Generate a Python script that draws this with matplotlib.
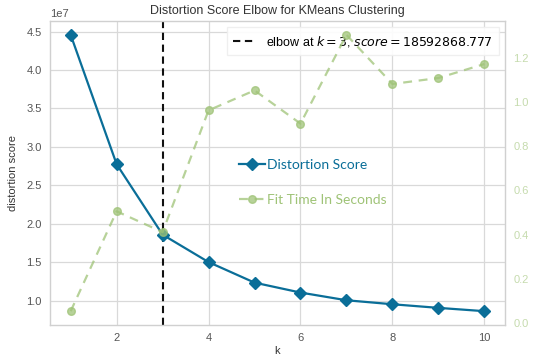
import matplotlib
matplotlib.use("Agg")
import matplotlib.pyplot as plt

# k values tried and the resulting KMeans scores
k_values = [1, 2, 3, 4, 5, 6, 7, 8, 9, 10]
distortion = [44.57e6, 27.75e6, 18592868.777, 15.03e6, 12.36e6,
              11.07e6, 10.07e6, 9.55e6, 9.08e6, 8.65e6]
fit_time = [0.055, 0.506, 0.412, 0.962, 1.052, 0.902, 1.303, 1.081, 1.108, 1.171]
elbow_k = 3
elbow_score = 18592868.777

blue = "#0a6e98"
green = "#9fc377"
tick_gray = "#555555"

plt.rcParams["font.family"] = ["Liberation Sans", "DejaVu Sans"]
plt.rcParams["mathtext.fontset"] = "dejavusans"

fig = plt.figure(figsize=(5.33, 3.58), dpi=100)
ax = fig.add_axes([0.0938, 0.0922, 0.8537, 0.8491])

dist_line, = ax.plot(k_values, distortion, color=blue, marker="D", markersize=6.5,
                     lw=1.6, label="Distortion Score", zorder=3)
elbow_line = ax.axvline(elbow_k, color="#111111", ls="--", lw=1.5, dashes=(3.5, 2.2),
                        label="elbow at $k=%d$, $score=%.3f$" % (elbow_k, elbow_score))
elbow_leg = ax.legend([elbow_line], [elbow_line.get_label()], loc="upper right",
                      fontsize=9, frameon=True, handlelength=1.8, borderpad=0.5,
                      fancybox=False)
elbow_leg.get_frame().set_edgecolor("#eeeeee")
elbow_leg.get_frame().set_facecolor("white")
elbow_leg.get_frame().set_alpha(0.9)

ax.set_title("Distortion Score Elbow for KMeans Clustering", fontsize=9, color="#333333", pad=5)
ax.set_xlabel("k", fontsize=8, color="#333333", labelpad=2)
ax.set_ylabel("distortion score", fontsize=8, color="#333333", labelpad=6)
ax.set_xticks([2, 4, 6, 8, 10])
ax.set_yticks([10e6, 15e6, 20e6, 25e6, 30e6, 35e6, 40e6, 45e6])
ax.tick_params(colors=tick_gray, labelsize=8, length=0, pad=6)
ax.yaxis.get_offset_text().set_fontsize(8)
ax.yaxis.get_offset_text().set_color(tick_gray)
ax.grid(True, color="#d9d9d9", lw=0.9)
ax.set_axisbelow(True)
for s in ax.spines.values():
    s.set_color("#d0d0d0")
    s.set_linewidth(1.0)

# fit time on a secondary axis
ax2 = ax.twinx()
time_line, = ax2.plot(k_values, fit_time, color=green, marker="o", markersize=5.5, lw=1.6,
                      ls="--", dashes=(4, 3), alpha=0.75, label="Fit Time In Seconds")
ax2.set_yticks([0.0, 0.2, 0.4, 0.6, 0.8, 1.0, 1.2])
ax2.tick_params(axis="y", colors=green, labelsize=8, length=0, pad=6)
for lbl in ax2.get_yticklabels():
    lbl.set_alpha(0.6)
ax2.set_ylabel("fit time (seconds)", fontsize=8, color=green, alpha=0.75, labelpad=4)
ax2.grid(False)
for s in ax2.spines.values():
    s.set_visible(False)

# series legend in the middle of the plot
fig.legend([dist_line, time_line], [dist_line.get_label(), time_line.get_label()],
           loc="upper left", bbox_to_anchor=(0.425, 0.59), frameon=False,
           prop={"family": "Lato", "size": 10}, labelcolor="linecolor",
           handlelength=1.9, handletextpad=0.1, labelspacing=1.65)

fig.savefig("out.png", dpi=100)
